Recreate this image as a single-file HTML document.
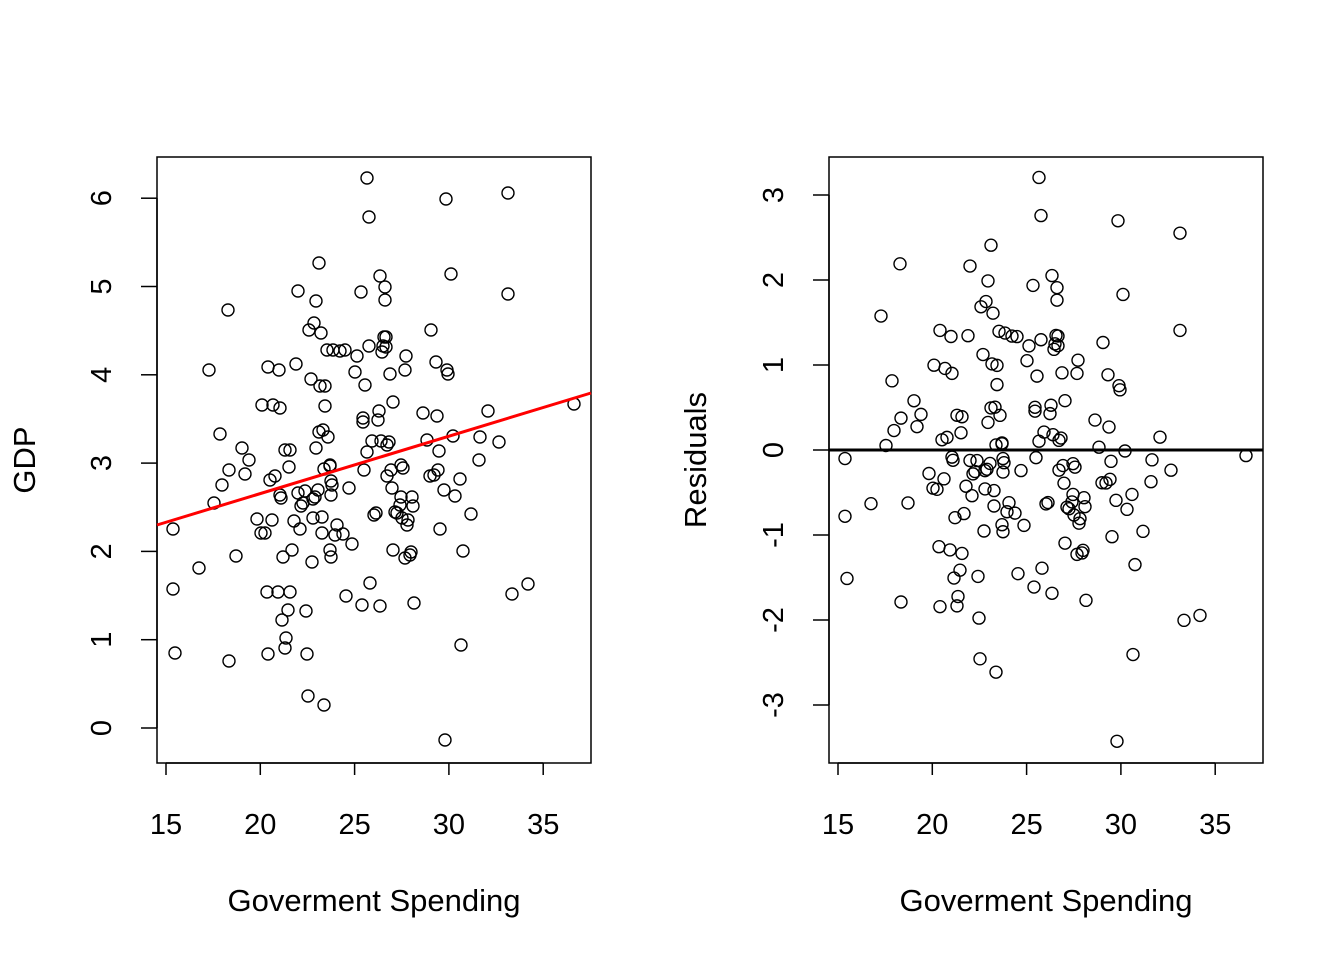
<!DOCTYPE html>
<html><head><meta charset="utf-8"><style>
body{margin:0;background:#fff}
svg text{font-family:"Liberation Sans",Arial,sans-serif;font-size:29px;fill:#000}
svg text.t{font-size:31px}
</style></head><body>
<svg id="s" width="1344" height="960" xmlns="http://www.w3.org/2000/svg">
<rect x="157" y="157" width="434" height="606" fill="none" stroke="#000" stroke-width="1.5"/>
<rect x="829" y="157" width="434" height="606" fill="none" stroke="#000" stroke-width="1.5"/>
<g id="g"></g>
<line x1="157" y1="525" x2="591" y2="393" stroke="#f00" stroke-width="3"/>
<line x1="829" y1="450" x2="1263" y2="450" stroke="#000" stroke-width="3"/>
<text class="t" x="374" y="911" text-anchor="middle">Goverment Spending</text>
<text class="t" x="1046" y="911" text-anchor="middle">Goverment Spending</text>
<text class="t" transform="translate(35,460) rotate(-90)" text-anchor="middle">GDP</text>
<text class="t" transform="translate(706,460) rotate(-90)" text-anchor="middle">Residuals</text>
</svg>
<script>
var g=document.getElementById('g'),h='';
function L(a,b,c,d){h+='<line x1="'+a+'" y1="'+b+'" x2="'+c+'" y2="'+d+'" stroke="#000" stroke-width="1.5"/>';}
function T(x,y,t,r){h+=r?'<text transform="translate('+x+','+y+') rotate(-90)" text-anchor="middle">'+t+'</text>':'<text x="'+x+'" y="'+y+'" text-anchor="middle">'+t+'</text>';}
[0,672].forEach(function(o){
 L(166+o,763,543+o,763);
 for(var i=0;i<5;i++){var x=166+o+i*94.3;L(x,763,x,775);T(x,834,15+5*i);}
});
L(157,198,157,728);
for(var i=0;i<=6;i++){var y=728-i*88.3;L(157,y,141,y);T(111,y,i,1);}
L(829,195,829,705);
for(var i=-3;i<=3;i++){var y=450-i*85;L(829,y,813,y);T(783,y,i<0?'-'+(-i):i,1);}
var P=[[173,529],[173,589],[175,653],[199,568],[209,370],[214,503],[220,434],[222,485],[228,310],[229,470],[229,661],[236,556],[242,448],[245,474],[249,460],[257,519],[261,533],[265,533],[267,592],[268,367],[268,654],[270,480],[272,520],[273,405],[275,476],[278,592],[279,370],[280,408],[280,495],[281,498],[282,620],[283,557],[285,450],[285,648],[286,638],[288,610],[290,450],[290,592],[292,550],[294,521],[296,364],[298,291],[298,493],[300,529],[301,506],[303,503],[306,611],[307,654],[308,696],[309,330],[311,379],[312,562],[313,518],[313,499],[314,323],[315,497],[316,448],[316,301],[318,490],[319,263],[319,432],[320,386],[321,333],[322,517],[322,533],[323,430],[324,469],[324,705],[325,386],[325,406],[327,350],[328,437],[330,465],[330,550],[331,557],[331,495],[331,481],[332,485],[333,350],[335,535],[337,525],[340,351],[343,534],[345,350],[346,596],[349,488],[352,544],[355,372],[357,356],[361,292],[362,605],[363,418],[363,422],[364,470],[365,385],[367,452],[367,178],[369,217],[369,346],[370,583],[372,441],[374,515],[376,513],[378,420],[379,411],[380,276],[380,606],[381,441],[382,352],[383,346],[384,337],[385,287],[385,300],[386,337],[386,347],[387,476],[387,445],[389,442],[390,374],[391,470],[392,488],[393,402],[393,550],[395,512],[397,513],[400,505],[401,465],[401,497],[402,518],[403,468],[405,558],[405,370],[406,356],[407,525],[408,520],[410,555],[411,552],[412,497],[413,506],[414,603],[423,413],[427,440],[430,476],[431,330],[434,475],[436,362],[437,416],[438,470],[439,451],[440,529],[444,490],[445,740],[446,199],[447,370],[448,374],[451,274],[453,436],[455,496],[460,479],[461,645],[463,551],[471,514],[479,460],[480,437],[488,411],[499,442],[508,193],[508,294],[512,594],[528,584],[574,404],[305,491],[262,405],[330,466],[289,467]];
P.forEach(function(p){
 h+='<circle cx="'+p[0]+'" cy="'+p[1]+'" r="6" fill="none" stroke="#000" stroke-width="1.4"/>';
 var f=525-(p[0]-157)*132/434, r=(f-p[1])/88.3;
 h+='<circle cx="'+(p[0]+672)+'" cy="'+(450-r*85)+'" r="6" fill="none" stroke="#000" stroke-width="1.4"/>';
});
g.innerHTML=h;
</script>
</body></html>
